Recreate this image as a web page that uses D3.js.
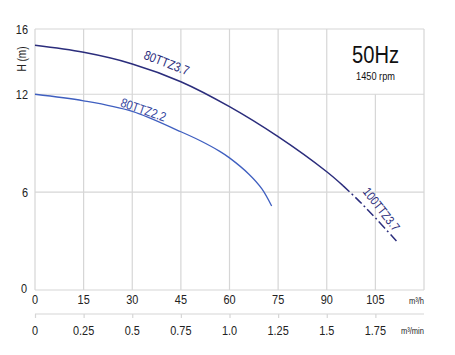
<!DOCTYPE html>
<html><head><meta charset="utf-8">
<script src="https://cdn.jsdelivr.net/npm/d3@7"></script>
<style>
body{margin:0;background:#fff;}
text{font-family:"Liberation Sans",Arial,sans-serif;}
</style></head>
<body><svg id="c" width="455" height="355"></svg>
<script>
// Data
const q80_37 = [0, 15, 30, 45, 60, 75, 90, 95];
const h80_37 = [15.0, 14.57, 13.86, 12.77, 11.24, 9.4, 7.25, 6.4];
const q100_37 = [95, 100, 105, 111.5];
const h100_37 = [6.4, 5.45, 4.42, 3.0];
const q80_22 = [0, 15, 30, 45, 51, 57, 60, 66, 70, 73];
const h80_22 = [12.0, 11.6, 10.95, 9.7, 9.15, 8.5, 8.1, 7.1, 6.2, 5.15];
const xTicks = [0, 15, 30, 45, 60, 75, 90, 105];
const xGrid = [0, 15, 30, 45, 60, 75, 90, 105, 120];
const yTicks = [0, 6, 12, 16];
const minTicks = [0, 0.25, 0.5, 0.75, 1.0, 1.25, 1.5, 1.75];
const minLabels = ["0", "0.25", "0.5", "0.75", "1.0", "1.25", "1.5", "1.75"];

const svg = d3.select("#c");
const x = d3.scaleLinear().domain([0, 120]).range([35, 424]);
const xm = d3.scaleLinear().domain([0, 2]).range([35, 424]);
const y = d3.scaleLinear().domain([0, 16]).range([290, 29]);
const grid = "#d6d6d6";
const SX = 0.84;

function txt(px, py, s, size, anchor, fill, rot) {
  return svg.append("text")
    .attr("transform", `translate(${px},${py}) rotate(${rot || 0}) scale(${SX},1)`)
    .attr("text-anchor", anchor).attr("font-size", size).attr("fill", fill).text(s);
}

// horizontal grid
svg.append("g").selectAll("line").data(yTicks).join("line")
  .attr("x1", x(0)).attr("x2", x(120))
  .attr("y1", d => y(d)).attr("y2", d => y(d))
  .attr("stroke", grid).attr("stroke-width", 1.2);
// vertical grid
svg.append("g").selectAll("line").data(xGrid).join("line")
  .attr("x1", d => x(d)).attr("x2", d => x(d))
  .attr("y1", y(0)).attr("y2", d => d === 105 ? y(12) : y(16))
  .attr("stroke", grid).attr("stroke-width", 1.2);

// y labels
yTicks.forEach(d => txt(d === 0 ? 27 : 28, y(d) + (d === 0 ? 3 : 4.5), d, 13, "end", "#222"));
txt(26, 59, "H (m)", 12, "middle", "#222", -90);

// x labels (m3/h)
xTicks.forEach(d => txt(x(d), 304, d, 13, "middle", "#222"));
txt(424, 304, "m³/h", 9, "end", "#222");

// second axis m3/min
const ax = d3.axisBottom(xm).tickValues(minTicks).tickSize(4).tickFormat(() => "");
const g2 = svg.append("g").attr("transform", "translate(0,314)").call(ax);
g2.select(".domain").attr("stroke", grid).attr("stroke-width", 1.2).attr("d", `M${xm(0)},0H${xm(2)}`);
g2.selectAll(".tick line").attr("stroke", grid).attr("stroke-width", 1.2);
minTicks.forEach((d, i) => txt(xm(d), 335, minLabels[i], 13, "middle", "#222"));
txt(424, 334, "m³/min", 9, "end", "#222");

// curves
const line = (qs, hs) => d3.line().curve(d3.curveCatmullRom.alpha(0.5))
  .x((d, i) => x(qs[i])).y((d, i) => y(hs[i]))(hs);
svg.append("path").attr("d", line(q80_37, h80_37)).attr("fill", "none")
  .attr("stroke", "#2b2d7c").attr("stroke-width", 1.5);
svg.append("path").attr("d", line(q100_37, h100_37)).attr("fill", "none")
  .attr("stroke", "#2b2d7c").attr("stroke-width", 1.5).attr("stroke-dasharray", "9,3,2,3");
svg.append("path").attr("d", line(q80_22, h80_22)).attr("fill", "none")
  .attr("stroke", "#3f5fc0").attr("stroke-width", 1.3);

// curve labels
txt(165, 67, "80TTZ3.7", 13, "middle", "#2b2d7c", 21);
txt(142, 114, "80TTZ2.2", 13, "middle", "#33449e", 19);
txt(378, 212, "100TTZ3.7", 12.5, "middle", "#2b2d7c", 52);

// frequency label
txt(375.5, 63, "50Hz", 24, "middle", "#111");
txt(375.5, 80, "1450 rpm", 11, "middle", "#111");
</script></body></html>
